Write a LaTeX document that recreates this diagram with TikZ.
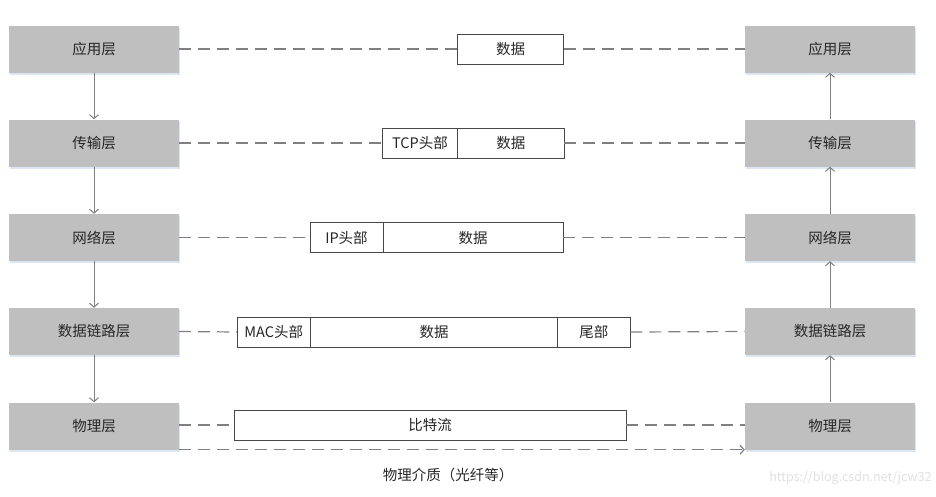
\documentclass[tikz,border=0pt]{standalone}
\usepackage{fontspec}
\setmainfont{Noto Sans CJK SC}
\usetikzlibrary{arrows.meta}
\definecolor{boxgray}{HTML}{BFBFBF}
\definecolor{linegray}{HTML}{7F7F7F}
\definecolor{txt}{HTML}{262626}
\definecolor{shadowc}{HTML}{DCE6F2}
\begin{document}
\begin{tikzpicture}[x=1pt,y=-1pt,
  every node/.style={font=\fontsize{14.5}{17}\selectfont, text=txt},
  layer/.style={fill=boxgray, minimum width=170pt, minimum height=47pt, inner sep=0pt,
    preaction={fill=shadowc, transform canvas={yshift=-2pt, xshift=1pt}}},
  cell/.style={draw=txt!85, fill=white, line width=0.8pt, minimum height=30pt, inner sep=0pt},
  dashc/.style={draw=linegray, line width=1.2pt, dash pattern=on 12pt off 7pt},
  upc/.style={draw=linegray, line width=1pt, -{Straight Barb[length=4pt,width=9pt]}}
]
\useasboundingbox (0,0) rectangle (936,496);
% left stack
\node[layer] (L1) at (94,49) {应用层};
\node[layer] (L2) at (94,143) {传输层};
\node[layer] (L3) at (94,237.5) {网络层};
\node[layer] (L4) at (94,331.5) {数据链路层};
\node[layer] (L5) at (94,426) {物理层};
% right stack
\node[layer] (R1) at (830,49) {应用层};
\node[layer] (R2) at (830,143) {传输层};
\node[layer] (R3) at (830,237.5) {网络层};
\node[layer] (R4) at (830,331.5) {数据链路层};
\node[layer] (R5) at (830,426) {物理层};
% vertical arrows
\draw[upc] (L1) -- (L2);
\draw[upc] (L2) -- (L3);
\draw[upc] (L3) -- (L4);
\draw[upc] (L4) -- (L5);
\draw[upc] (R5) -- (R4);
\draw[upc] (R4) -- (R3);
\draw[upc] (R3) -- (R2);
\draw[upc] (R2) -- (R1);
% packets
\node[cell, minimum width=106pt] (d1) at (510.5,49) {数据};
\node[cell, minimum width=75pt] (tcp) at (420,143) {TCP头部};
\node[cell, minimum width=106.5pt] (d2) at (510.75,143) {数据};
\node[cell, minimum width=73pt] (ip) at (346.5,237.5) {IP头部};
\node[cell, minimum width=180pt] (d3) at (473,237.5) {数据};
\node[cell, minimum width=73pt] (mac) at (273.8,332) {MAC头部};
\node[cell, minimum width=247.4pt] (d4) at (434,332) {数据};
\node[cell, minimum width=72.3pt] (tail) at (593.85,332) {尾部};
\node[cell, minimum width=392pt] (bits) at (430,425) {比特流};
% dashed connections
\draw[dashc] (L1.east) -- (d1.west);
\draw[dashc] (d1.east) -- (R1.west);
\draw[dashc] (L2.east) -- (tcp.west);
\draw[dashc] (d2.east) -- (R2.west);
\draw[dashc] (L3.east) -- (ip.west);
\draw[dashc] (d3.east) -- (R3.west);
\draw[dashc] (L4.east) -- (mac.west);
\draw[dashc] (tail.east) -- (R4.west);
\draw[dashc] (L5.east |- bits.west) -- (bits.west);
\draw[dashc] (bits.east) -- (R5.west |- bits.east);
\draw[dashc, -{Straight Barb[length=4pt,width=9pt]}] (L5.south east) -- (R5.south west);
% caption
\node (cap) at (448,475) {物理介质（光纤等）};
\node[anchor=east, text=black!12, font=\fontsize{12.5}{14}\selectfont] (wm) at (935,478) {https://blog.csdn.net/jcw32};
\end{tikzpicture}
\end{document}
